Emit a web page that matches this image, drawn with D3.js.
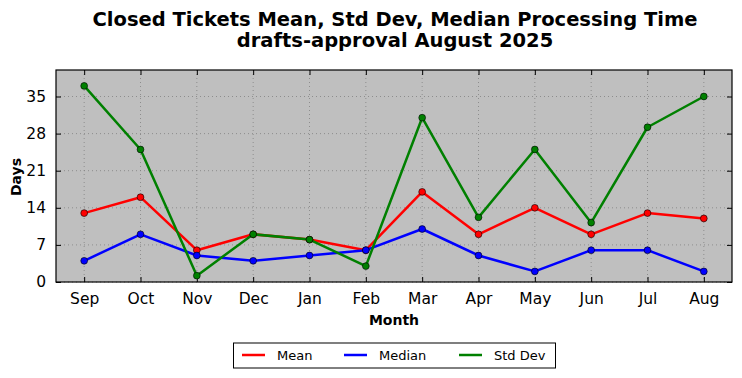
<!DOCTYPE html>
<html>
<head>
<meta charset="utf-8">
<script src="https://cdn.jsdelivr.net/npm/d3@7"></script>
<style>
  html, body { margin: 0; padding: 0; background: #fff; }
  svg { display: block; font-family: "DejaVu Sans", sans-serif; }
</style>
</head>
<body>
<svg id="chart" width="742" height="378"></svg>
<script>
const months = ["Sep", "Oct", "Nov", "Dec", "Jan", "Feb", "Mar", "Apr", "May", "Jun", "Jul", "Aug"];
const meanValues = [13, 16, 6, 9, 8, 6, 17, 9, 14, 9, 13, 12];
const medianValues = [4, 9, 5, 4, 5, 6, 10, 5, 2, 6, 6, 2];
const stdValues = [37, 25, 1.2, 9, 8, 3, 31, 12.2, 25, 11.2, 29.2, 35];
const yTicks = [0, 7, 14, 21, 28, 35];
const seriesNames = ["Mean", "Median", "Std Dev"];
const seriesColors = ["#ff0000", "#0000ff", "#008000"];
const titleLines = ["Closed Tickets Mean, Std Dev, Median Processing Time", "drafts-approval August 2025"];

const svg = d3.select("#chart");
const L = 56, R = 732, T = 70, B = 282;

const x = d3.scaleLinear().domain([-0.5, months.length - 0.5]).range([L, R]);
const y = d3.scaleLinear().domain([0, 40]).range([B, T]);

// background
svg.append("rect").attr("x", L).attr("y", T).attr("width", R - L).attr("height", B - T).attr("fill", "#bfbfbf");

// grid
const g = svg.append("g");
g.selectAll(".vg").data(months).enter().append("line")
  .attr("x1", (d, i) => x(i)).attr("x2", (d, i) => x(i))
  .attr("y1", T).attr("y2", B)
  .attr("stroke", "#808080").attr("stroke-width", 0.8).attr("stroke-dasharray", "1,3");
g.selectAll(".hg").data(yTicks).enter().append("line")
  .attr("x1", L).attr("x2", R)
  .attr("y1", d => y(d)).attr("y2", d => y(d))
  .attr("stroke", "#808080").attr("stroke-width", 0.8).attr("stroke-dasharray", "1,3");

// axes (ticks inward)
const xAxisB = d3.axisBottom(x).tickValues(d3.range(months.length)).tickFormat(i => months[i]).tickSizeInner(-5).tickSizeOuter(0).tickPadding(11);
const xAxisT = d3.axisTop(x).tickValues(d3.range(months.length)).tickFormat("").tickSizeInner(-5).tickSizeOuter(0);
const yAxisL = d3.axisLeft(y).tickValues(yTicks).tickSizeInner(-5).tickSizeOuter(0).tickPadding(10);
const yAxisR = d3.axisRight(y).tickValues(yTicks).tickFormat("").tickSizeInner(-5).tickSizeOuter(0);

function styleAxis(sel) {
  sel.select(".domain").remove();
  sel.selectAll(".tick line").attr("stroke", "#000").attr("stroke-width", 1);
  sel.selectAll(".tick text").attr("font-family", "DejaVu Sans").attr("font-size", 15.5).attr("fill", "#000");
}
svg.append("g").attr("transform", `translate(0,${B})`).call(xAxisB).call(styleAxis);
svg.append("g").attr("transform", `translate(0,${T})`).call(xAxisT).call(styleAxis);
svg.append("g").attr("transform", `translate(${L},0)`).call(yAxisL).call(styleAxis);
svg.append("g").attr("transform", `translate(${R},0)`).call(yAxisR).call(styleAxis);

// series
const allSeries = [meanValues, medianValues, stdValues];
const line = d3.line().x((d, i) => x(i)).y(d => y(d));
allSeries.forEach((vals, si) => {
  svg.append("path").datum(vals).attr("d", line)
    .attr("fill", "none").attr("stroke", seriesColors[si]).attr("stroke-width", 2.5)
    .attr("stroke-linejoin", "round");
});
allSeries.forEach((vals, si) => {
  svg.append("g").selectAll("circle").data(vals).enter().append("circle")
    .attr("cx", (d, i) => x(i)).attr("cy", d => y(d)).attr("r", 3.4)
    .attr("fill", seriesColors[si]).attr("stroke", "#000").attr("stroke-width", 0.6);
});

// frame
svg.append("rect").attr("x", L).attr("y", T).attr("width", R - L).attr("height", B - T)
  .attr("fill", "none").attr("stroke", "#000").attr("stroke-width", 1.2);

// title
svg.append("text").attr("x", (L + R) / 2).attr("y", 0).attr("text-anchor", "middle")
  .attr("font-size", 19.5).attr("font-weight", "bold").attr("fill", "#000")
  .selectAll("tspan").data(titleLines).enter().append("tspan")
  .attr("x", (L + R) / 2 + 1).attr("y", (d, i) => 25.5 + i * 21.5).text(d => d);

// axis labels
svg.append("text").attr("x", (L + R) / 2).attr("y", 325).attr("text-anchor", "middle")
  .attr("font-size", 14).attr("font-weight", "bold").text("Month");
svg.append("text").attr("transform", "translate(21,177) rotate(-90)").attr("text-anchor", "middle")
  .attr("font-size", 14).attr("font-weight", "bold").text("Days");

// legend
const leg = svg.append("g");
leg.append("rect").attr("x", 233.5).attr("y", 343).attr("width", 322).attr("height", 25)
  .attr("fill", "#fff").attr("stroke", "#000").attr("stroke-width", 1);
const legX = [242, 344, 459];
seriesNames.forEach((n, i) => {
  leg.append("line").attr("x1", legX[i]).attr("x2", legX[i] + 23).attr("y1", 355).attr("y2", 355)
    .attr("stroke", seriesColors[i]).attr("stroke-width", 2.5);
  leg.append("text").attr("x", legX[i] + 35).attr("y", 360).attr("font-size", 13).text(n);
});
</script>
</body>
</html>
